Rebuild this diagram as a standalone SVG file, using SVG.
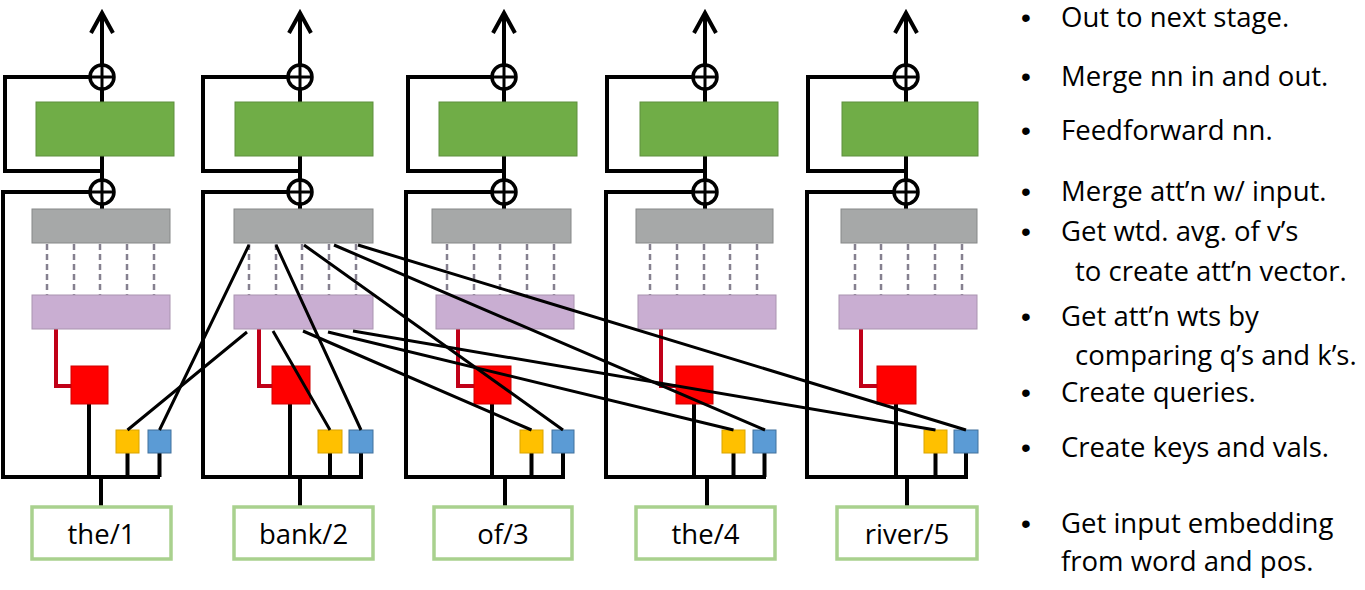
<svg xmlns="http://www.w3.org/2000/svg" width="1365" height="590" viewBox="0 0 1365 590">
<style>
.sk{fill:none;stroke:#000;stroke-width:4;stroke-linejoin:miter}
.att{fill:none;stroke:#000;stroke-width:3}
.rl{fill:none;stroke:#c00018;stroke-width:4}
.ds{stroke:#85808f;stroke-width:2.5;stroke-dasharray:6 4}
.ffn{fill:#70ad47;stroke:#5f8f3e;stroke-width:1}
.gry{fill:#a6a8a8;stroke:#868888;stroke-width:1}
.pur{fill:#c9aed2;stroke:#a994b0;stroke-width:1}
.red{fill:#ff0000;stroke:#d00000;stroke-width:1}
.yel{fill:#ffc000;stroke:#d9a400;stroke-width:1}
.blu{fill:#5b9bd5;stroke:#41719c;stroke-width:1}
.wbox{fill:#fff;stroke:#a9d18e;stroke-width:3.5}
.add{fill:#fff;stroke:#000;stroke-width:3.5}
.wt{font-family:"Open Sans","Noto Sans",sans-serif;font-size:27.5px;fill:#000;text-anchor:middle}
.lt{font-family:"Open Sans","Noto Sans",sans-serif;font-size:27.5px;fill:#000}
.bl{font-family:"Liberation Sans","DejaVu Sans",sans-serif;font-size:28px;fill:#000}
</style>
<rect width="1365" height="590" fill="#fff"/>

<g id="skeleton">
<path class="sk" d="M90,77 H5 V171 H102 M90,192 H3 V477 H160 M102,209 V14 M91,33 L102,13 L113,33 M89,404 V477 M127.5,453 V477 M159.5,453 V477 M101,477 V507"/>
<path class="rl" d="M56,329 V386 H71"/>
<path class="sk" d="M288,77 H203 V171 H300 M288,192 H203 V477 H363 M300,209 V14 M289,33 L300,13 L311,33 M290,404 V477 M330,453 V477 M361,453 V477 M300,477 V507"/>
<path class="rl" d="M259,329 V386 H272"/>
<path class="sk" d="M492,77 H408 V171 H504 M492,192 H406 V477 H565 M504,209 V14 M493,33 L504,13 L515,33 M492,404 V477 M531.5,453 V477 M563,453 V477 M505,477 V507"/>
<path class="rl" d="M458,329 V386 H474"/>
<path class="sk" d="M693,77 H607 V171 H705 M693,192 H606 V477 H766 M705,209 V14 M694,33 L705,13 L716,33 M694,404 V477 M733.5,453 V477 M764.5,453 V477 M707,477 V507"/>
<path class="rl" d="M661,329 V386 H676"/>
<path class="sk" d="M894,77 H808 V171 H906 M894,192 H807 V477 H968 M906,209 V14 M895,33 L906,13 L917,33 M896,404 V477 M935.5,453 V477 M966,453 V477 M907,477 V507"/>
<path class="rl" d="M861,329 V386 H877"/>
</g>

<g id="dashes">
<path class="ds" d="M47,244 V295 M74,244 V295 M100,244 V295 M127,244 V295 M154,244 V295"/>
<path class="ds" d="M249,244 V295 M276,244 V295 M302,244 V295 M329,244 V295 M356,244 V295"/>
<path class="ds" d="M447,244 V295 M474,244 V295 M500,244 V295 M527,244 V295 M554,244 V295"/>
<path class="ds" d="M650,244 V295 M677,244 V295 M704,244 V295 M730,244 V295 M757,244 V295"/>
<path class="ds" d="M855,244 V295 M881,244 V295 M908,244 V295 M935,244 V295 M962,244 V295"/>
</g>

<g id="add-top-1"><circle class="add" cx="102" cy="77" r="12"/><path class="sk" style="stroke-width:3" d="M90,77 H114 M102,65 V89"/></g>
<g id="ffn-1"><rect class="ffn" x="36" y="102" width="138" height="54"/></g>
<g id="add-att-1"><circle class="add" cx="102" cy="192" r="12"/><path class="sk" style="stroke-width:3" d="M90,192 H114 M102,180 V204"/></g>
<g id="avg-1"><rect class="gry" x="32" y="209" width="138" height="34"/></g>
<g id="wts-1"><rect class="pur" x="32" y="295" width="138" height="34"/></g>
<g id="q-1"><rect class="red" x="71" y="366" width="37" height="38"/></g>
<g id="k-1"><rect class="yel" x="116" y="430" width="23" height="23"/></g>
<g id="v-1"><rect class="blu" x="148" y="430" width="23" height="23"/></g>
<g id="word-1"><rect class="wbox" x="32" y="507" width="139" height="52"/><text class="wt" x="101.5" y="544">the/1</text></g>

<g id="add-top-2"><circle class="add" cx="300" cy="77" r="12"/><path class="sk" style="stroke-width:3" d="M288,77 H312 M300,65 V89"/></g>
<g id="ffn-2"><rect class="ffn" x="235" y="102" width="138" height="54"/></g>
<g id="add-att-2"><circle class="add" cx="300" cy="192" r="12"/><path class="sk" style="stroke-width:3" d="M288,192 H312 M300,180 V204"/></g>
<g id="avg-2"><rect class="gry" x="234" y="209" width="139" height="34"/></g>
<g id="wts-2"><rect class="pur" x="234" y="295" width="139" height="34"/></g>
<g id="q-2"><rect class="red" x="272" y="366" width="38" height="38"/></g>
<g id="k-2"><rect class="yel" x="318" y="430" width="24" height="23"/></g>
<g id="v-2"><rect class="blu" x="349" y="430" width="24" height="23"/></g>
<g id="word-2"><rect class="wbox" x="234" y="507" width="139" height="52"/><text class="wt" x="303.5" y="544">bank/2</text></g>

<g id="add-top-3"><circle class="add" cx="504" cy="77" r="12"/><path class="sk" style="stroke-width:3" d="M492,77 H516 M504,65 V89"/></g>
<g id="ffn-3"><rect class="ffn" x="439" y="102" width="138" height="54"/></g>
<g id="add-att-3"><circle class="add" cx="504" cy="192" r="12"/><path class="sk" style="stroke-width:3" d="M492,192 H516 M504,180 V204"/></g>
<g id="avg-3"><rect class="gry" x="432" y="209" width="139" height="34"/></g>
<g id="wts-3"><rect class="pur" x="436" y="295" width="138" height="34"/></g>
<g id="q-3"><rect class="red" x="474" y="366" width="37" height="38"/></g>
<g id="k-3"><rect class="yel" x="520" y="430" width="23" height="23"/></g>
<g id="v-3"><rect class="blu" x="552" y="430" width="22" height="23"/></g>
<g id="word-3"><rect class="wbox" x="434" y="507" width="138" height="52"/><text class="wt" x="503" y="544">of/3</text></g>

<g id="add-top-4"><circle class="add" cx="705" cy="77" r="12"/><path class="sk" style="stroke-width:3" d="M693,77 H717 M705,65 V89"/></g>
<g id="ffn-4"><rect class="ffn" x="640" y="102" width="138" height="54"/></g>
<g id="add-att-4"><circle class="add" cx="705" cy="192" r="12"/><path class="sk" style="stroke-width:3" d="M693,192 H717 M705,180 V204"/></g>
<g id="avg-4"><rect class="gry" x="636" y="209" width="137" height="34"/></g>
<g id="wts-4"><rect class="pur" x="638" y="295" width="138" height="34"/></g>
<g id="q-4"><rect class="red" x="676" y="366" width="37" height="38"/></g>
<g id="k-4"><rect class="yel" x="722" y="430" width="23" height="23"/></g>
<g id="v-4"><rect class="blu" x="753" y="430" width="23" height="23"/></g>
<g id="word-4"><rect class="wbox" x="636" y="507" width="139" height="52"/><text class="wt" x="705.5" y="544">the/4</text></g>

<g id="add-top-5"><circle class="add" cx="906" cy="77" r="12"/><path class="sk" style="stroke-width:3" d="M894,77 H918 M906,65 V89"/></g>
<g id="ffn-5"><rect class="ffn" x="842" y="102" width="136" height="54"/></g>
<g id="add-att-5"><circle class="add" cx="906" cy="192" r="12"/><path class="sk" style="stroke-width:3" d="M894,192 H918 M906,180 V204"/></g>
<g id="avg-5"><rect class="gry" x="841" y="209" width="136" height="34"/></g>
<g id="wts-5"><rect class="pur" x="839" y="295" width="138" height="34"/></g>
<g id="q-5"><rect class="red" x="877" y="366" width="39" height="38"/></g>
<g id="k-5"><rect class="yel" x="924" y="430" width="23" height="23"/></g>
<g id="v-5"><rect class="blu" x="954" y="430" width="24" height="23"/></g>
<g id="word-5"><rect class="wbox" x="837" y="507" width="140" height="52"/><text class="wt" x="907" y="544">river/5</text></g>

<g id="connectors">
<path class="att" d="M249,245 L159.5,430 M276,245 L361,430 M304,245 L563,430 M334,245 L765,430 M358,245 L966,430"/>
<path class="att" d="M247,332 L127.5,430 M273,331 L330,430 M303,331 L531.5,430 M328,332 L733.5,430 M353,331 L935.5,430"/>
</g>

<g id="legend">
<text class="bl" x="1021" y="27">•</text><text class="lt" x="1061" y="27">Out to next stage.</text>
<text class="bl" x="1021" y="86">•</text><text class="lt" x="1061" y="86">Merge nn in and out.</text>
<text class="bl" x="1021" y="140">•</text><text class="lt" x="1061" y="140">Feedforward nn.</text>
<text class="bl" x="1021" y="201">•</text><text class="lt" x="1061" y="201">Merge att’n w/ input.</text>
<text class="bl" x="1021" y="241">•</text><text class="lt" x="1061" y="241">Get wtd. avg. of v’s</text>
<text class="lt" x="1075" y="281">to create att’n vector.</text>
<text class="bl" x="1021" y="326">•</text><text class="lt" x="1061" y="326">Get att’n wts by</text>
<text class="lt" x="1075" y="365">comparing q’s and k’s.</text>
<text class="bl" x="1021" y="402">•</text><text class="lt" x="1061" y="402">Create queries.</text>
<text class="bl" x="1021" y="457">•</text><text class="lt" x="1061" y="457">Create keys and vals.</text>
<text class="bl" x="1021" y="533">•</text><text class="lt" x="1061" y="533">Get input embedding</text>
<text class="lt" x="1061" y="571">from word and pos.</text>
</g>
</svg>
